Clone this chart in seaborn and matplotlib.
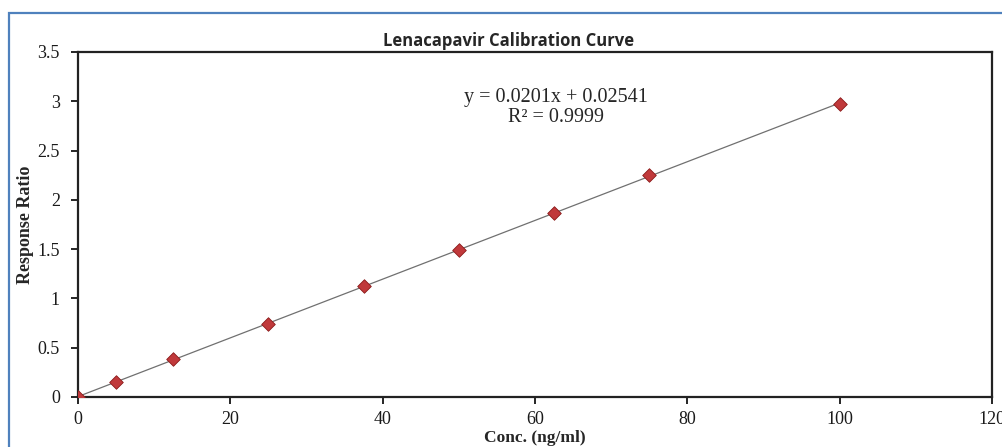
import matplotlib
matplotlib.use("Agg")
import matplotlib.pyplot as plt
import seaborn as sns
import pandas as pd
from matplotlib.patches import Rectangle

conc = [0, 5, 12.5, 25, 37.5, 50, 62.5, 75, 100]
response = [0.0, 0.15, 0.38, 0.74, 1.13, 1.49, 1.87, 2.25, 2.97]
x_ticks = [0, 20, 40, 60, 80, 100, 120]
y_ticks = [0, 0.5, 1, 1.5, 2, 2.5, 3, 3.5]
y_ticklabels = ["0", "0.5", "1", "1.5", "2", "2.5", "3", "3.5"]
title = "Lenacapavir Calibration Curve"
equation = "y = 0.0201x + 0.02541"
r2_text = "R² = 0.9999"

df = pd.DataFrame({"conc": conc, "response": response})

sns.set_theme(style="white")
plt.rcParams["font.family"] = ["Liberation Serif", "DejaVu Serif"]

fig = plt.figure(figsize=(10.03, 4.47), dpi=100)
ax = fig.add_axes([0.0778, 0.112, 0.9112, 0.7717])

sns.regplot(data=df, x="conc", y="response", ax=ax, ci=None, truncate=True,
            marker="D",
            scatter_kws={"s": 48, "color": "#C0393B", "edgecolor": "#8B1A1A",
                         "linewidths": 0.6, "zorder": 3, "alpha": 1},
            line_kws={"color": "#707070", "lw": 0.9, "zorder": 2})

ax.set_xlim(0, 120)
ax.set_ylim(0, 3.5)
ax.set_xticks(x_ticks)
ax.set_xticklabels([str(t) for t in x_ticks])
ax.set_yticks(y_ticks)
ax.set_yticklabels(y_ticklabels)
ax.tick_params(axis="both", direction="out", length=5, width=1.2, color="black",
               labelsize=13, labelcolor="#1a1a1a", bottom=True, left=True)
ax.tick_params(axis="x", pad=5)
ax.tick_params(axis="y", pad=8)
for s in ax.spines.values():
    s.set_color("#222222")
    s.set_linewidth(1.6)

ax.set_xlabel("Conc. (ng/ml)", fontsize=12.5, fontweight="bold")
ax.set_ylabel("Response Ratio", fontsize=13, fontweight="bold")
ax.xaxis.set_label_coords(0.5, -0.097)
ax.yaxis.set_label_coords(-0.048, 0.5)

fig.text(0.507, 0.888, title, ha="center", va="bottom", fontsize=12,
         fontweight="bold", family=["Open Sans", "DejaVu Sans"])

ax.text(62.8, 3.04, equation, ha="center", va="center", fontsize=14.5)
ax.text(62.8, 2.84, r2_text, ha="center", va="center", fontsize=14.5)

fig.patches.append(Rectangle((9 / 1003, -0.1), 1.2, 1 - 13 / 447 + 0.1,
                             transform=fig.transFigure, fill=False,
                             edgecolor="#4F81BD", lw=1.6, zorder=10))

fig.savefig("out.png", dpi=100)
